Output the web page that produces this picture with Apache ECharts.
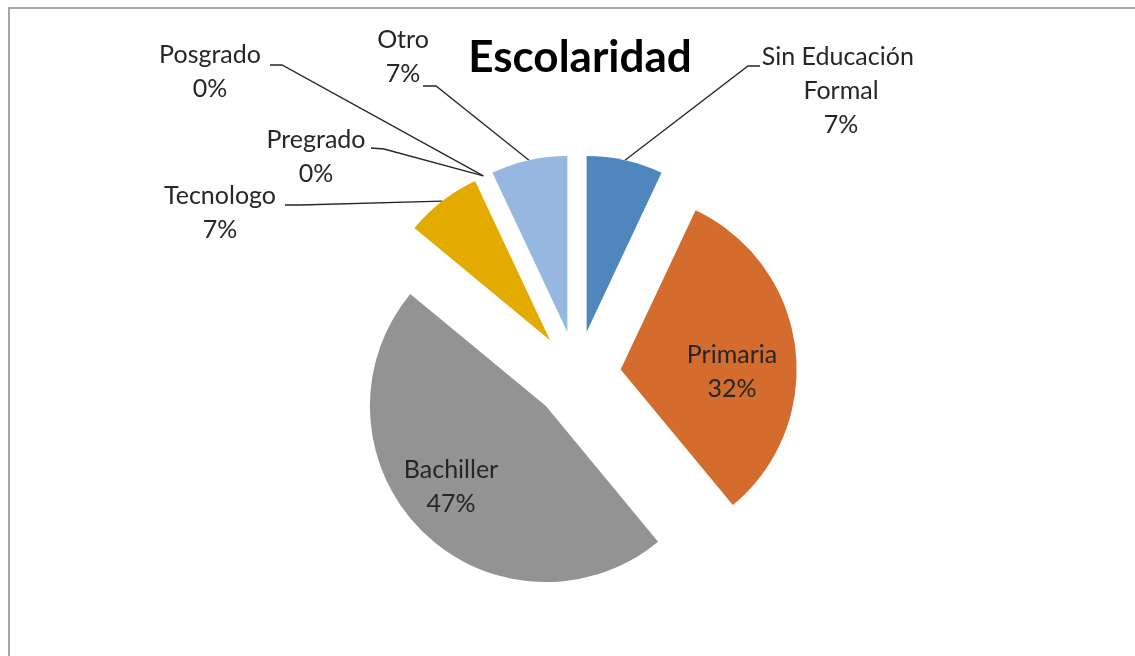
<!DOCTYPE html>
<html>
<head>
<meta charset="utf-8">
<script src="https://cdn.jsdelivr.net/npm/echarts@6/dist/echarts.min.js"></script>
<style>
  html, body { margin: 0; padding: 0; background: #fff; }
  #chart { width: 1135px; height: 656px; }
</style>
</head>
<body>
<div id="chart"></div>
<script>
// data (percent of people per school level)
const categories = ['Sin Educación Formal', 'Primaria', 'Bachiller', 'Tecnologo', 'Pregrado', 'Posgrado', 'Otro'];
const shares = [7, 32, 47, 7, 0, 0, 7];
const sliceColors = ['#4F86BD', '#D36C2C', '#939393', '#E3AA00', '#5B9BD5', '#70AD47', '#96B7DF'];
const insideLabels = ['Primaria', 'Bachiller'];

const FONT = 'Lato';
const PIE_CENTER = [577, 375];
const PIE_R = 176;
const EXPLODE = 44;

// where each label sits (centre x, top y) and where its leader line bends / ends
const labelSpots = {
  'Sin Educación Formal': { x: 841, y: 40, bend: [748, 66], end: [760, 66] },
  'Primaria': { x: 732, y: 338 },
  'Bachiller': { x: 451, y: 453 },
  'Tecnologo': { x: 220, y: 179, bend: [300, 205], end: [285, 205] },
  'Pregrado': { x: 316, y: 123, bend: [384, 149], end: [371, 148] },
  'Posgrado': { x: 210, y: 38, bend: [282, 65], end: [270, 65] },
  'Otro': { x: 403, y: 23, bend: [436, 86], end: [423, 86] }
};

const chart = echarts.init(document.getElementById('chart'), null, { renderer: 'canvas' });

const option = {
  animation: false,
  backgroundColor: '#fff',
  title: {
    text: 'Escolaridad',
    left: 575,
    top: 31,
    textAlign: 'center',
    textStyle: { fontFamily: FONT, fontWeight: 'bold', fontSize: 44, color: '#000' }
  },
  graphic: [{
    type: 'rect',
    shape: { x: 9, y: 8, width: 1200, height: 700 },
    style: { fill: 'none', stroke: '#a6a6a6', lineWidth: 2 },
    silent: true
  }],
  series: [
    // exploded slices
    {
      type: 'pie',
      center: PIE_CENTER,
      radius: PIE_R,
      startAngle: 90,
      clockwise: true,
      selectedMode: 'multiple',
      selectedOffset: EXPLODE,
      emphasis: { disabled: true },
      label: { show: false },
      labelLine: { show: false },
      data: categories.map((name, i) => ({
        name: name,
        value: shares[i],
        selected: true,
        itemStyle: { color: sliceColors[i] }
      }))
    },
    // label carrier: same slices at the exploded rim, invisible
    {
      type: 'pie',
      center: PIE_CENTER,
      radius: PIE_R + EXPLODE,
      startAngle: 90,
      clockwise: true,
      silent: true,
      avoidLabelOverlap: false,
      itemStyle: { color: 'rgba(0,0,0,0)' },
      label: {
        show: true,
        formatter: '{b}\n{d}%',
        fontFamily: FONT,
        fontSize: 25,
        lineHeight: 34,
        color: '#262626',
        width: 170,
        overflow: 'break',
        align: 'center'
      },
      labelLine: {
        show: true,
        lineStyle: { color: '#262626', width: 1.3 }
      },
      labelLayout: function (params) {
        const spot = labelSpots[categories[params.dataIndex]];
        const out = { x: spot.x, y: spot.y, align: 'center', verticalAlign: 'top' };
        if (spot.bend && params.labelLinePoints) {
          out.labelLinePoints = [params.labelLinePoints[0], spot.bend, spot.end];
        }
        return out;
      },
      data: categories.map((name, i) => {
        const inside = insideLabels.indexOf(name) >= 0;
        return {
          name: name,
          value: shares[i],
          label: { position: inside ? 'inside' : 'outside' },
          labelLine: { show: !inside }
        };
      })
    }
  ]
};

chart.setOption(option);
</script>
</body>
</html>
